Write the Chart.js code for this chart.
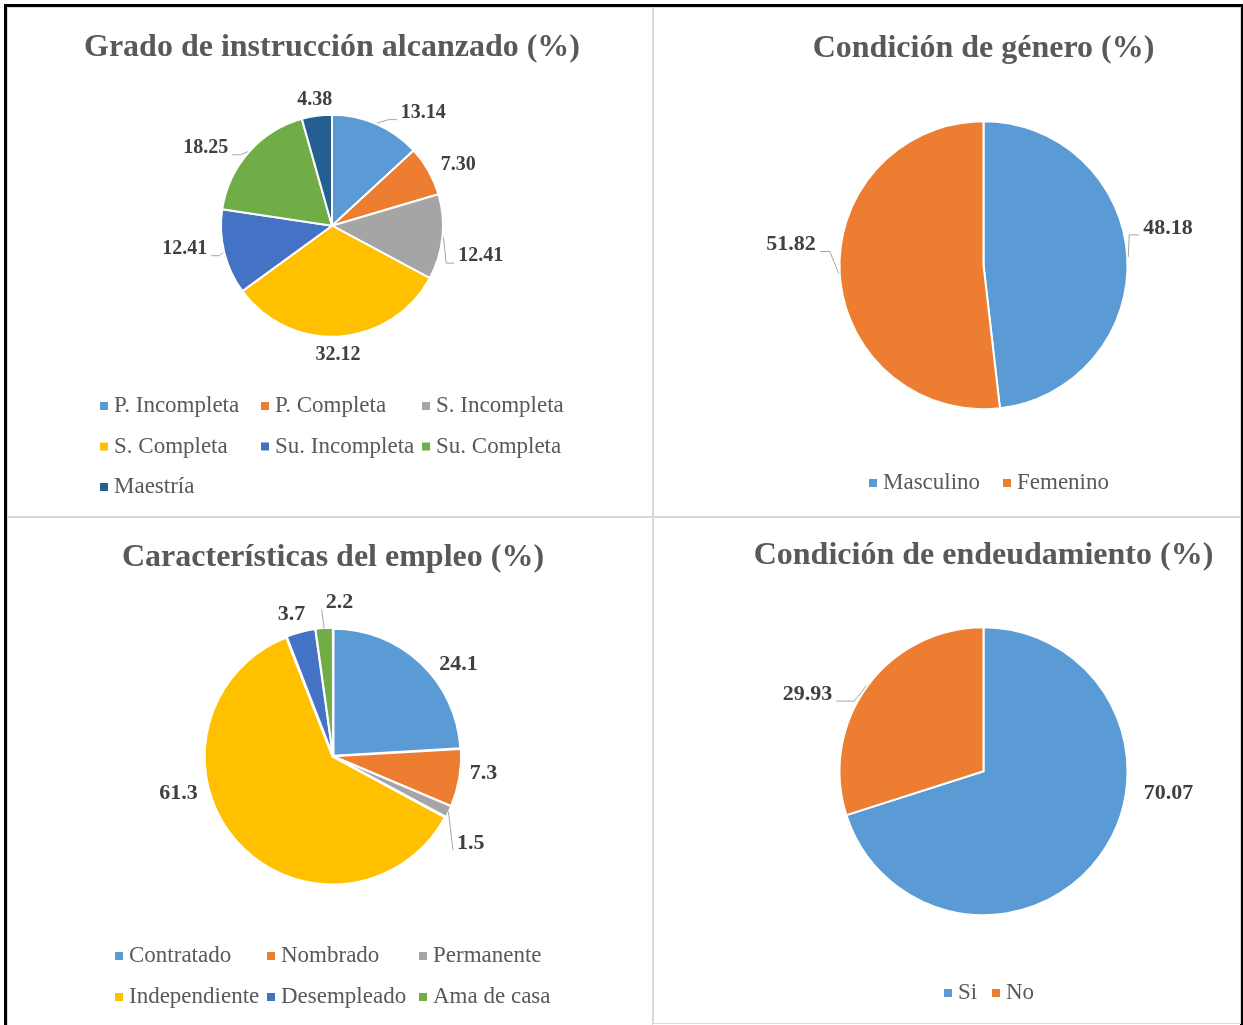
<!DOCTYPE html>
<html>
<head>
<meta charset="utf-8">
<script src="https://cdn.jsdelivr.net/npm/chart.js@4.4.0/dist/chart.umd.min.js"></script>
<style>
  html, body { margin: 0; padding: 0; background: #fff; overflow: hidden; }
  #frame { position: absolute; left: 4px; top: 4px; width: 1239px; height: 1040px; border: 3px solid #000; box-sizing: border-box; }
  .panel { position: absolute; border: 1px solid #d9d9d9; box-sizing: border-box; background: #fff; }
  .panel canvas { display: block; }
</style>
</head>
<body>
<div id="frame"></div>
<div class="panel" style="left:7px;top:7px;width:646px;height:510px"><canvas id="grado" width="644" height="508"></canvas></div>
<div class="panel" style="left:653px;top:7px;width:588px;height:510px"><canvas id="genero" width="586" height="508"></canvas></div>
<div class="panel" style="left:7px;top:517px;width:646px;height:509px"><canvas id="empleo" width="644" height="507"></canvas></div>
<div class="panel" style="left:653px;top:517px;width:588px;height:507px"><canvas id="deuda" width="586" height="505"></canvas></div>
<script>
const gradoLabels = ["P. Incompleta", "P. Completa", "S. Incompleta", "S. Completa", "Su. Incompleta", "Su. Completa", "Maestría"];
const gradoValues = [13.14, 7.30, 12.41, 32.12, 12.41, 18.25, 4.38];

const generoLabels = ["Masculino", "Femenino"];
const generoValues = [48.18, 51.82];

const empleoLabels = ["Contratado", "Nombrado", "Permanente", "Independiente", "Desempleado", "Ama de casa"];
const empleoValues = [24.1, 7.3, 1.5, 61.3, 3.7, 2.2];

const deudaLabels = ["Si", "No"];
const deudaValues = [70.07, 29.93];

const palette = ["#5B9BD5", "#ED7D31", "#A5A5A5", "#FFC000", "#4472C4", "#70AD47", "#255E91"];
const FONT = "'Liberation Serif', 'Times New Roman', serif";

// value labels outside the slices, with optional leader lines
const pieLabels = {
  id: "pieLabels",
  afterDatasetsDraw(chart, args, opts) {
    const ctx = chart.ctx;
    const meta = chart.getDatasetMeta(0);
    const values = chart.data.datasets[0].data;
    ctx.save();
    ctx.font = `bold ${opts.size}px ${FONT}`;
    ctx.textBaseline = "middle";
    ctx.textAlign = "center";
    meta.data.forEach((arc, i) => {
      const p = arc.getProps(["x", "y", "startAngle", "endAngle", "outerRadius"], true);
      const mid = (p.startAngle + p.endAngle) / 2;
      const dx = Math.cos(mid), dy = Math.sin(mid);
      const text = values[i].toFixed(opts.decimals);
      const w = ctx.measureText(text).width;
      const h = 14;
      const d = p.outerRadius + 12;
      const n = opts.nudge[i] || [0, 0];
      const tx = p.x + d * dx + dx * w / 2 + n[0];
      const ty = p.y + d * dy + dy * h / 2 + n[1];
      if (opts.leader[i]) {
        const sx = p.x + (p.outerRadius + 1) * dx;
        const sy = p.y + (p.outerRadius + 1) * dy;
        const right = tx > sx;
        const ex = right ? tx - w / 2 - 4 : tx + w / 2 + 4;
        const ey = ty + h / 2;
        const kx = right ? ex - opts.knee : ex + opts.knee;
        ctx.strokeStyle = "#A6A6A6";
        ctx.lineWidth = 1;
        ctx.beginPath();
        ctx.moveTo(sx, sy);
        ctx.lineTo(kx, ey);
        ctx.lineTo(ex, ey);
        ctx.stroke();
      }
      ctx.fillStyle = "#404040";
      ctx.fillText(text, tx, ty);
    });
    ctx.restore();
  }
};

// excel-like legend laid out in fixed columns
const gridLegend = {
  id: "gridLegend",
  afterDraw(chart, args, opts) {
    const ctx = chart.ctx;
    const colors = chart.data.datasets[0].backgroundColor;
    ctx.save();
    ctx.font = `23px ${FONT}`;
    ctx.textBaseline = "middle";
    ctx.textAlign = "left";
    chart.data.labels.forEach((label, i) => {
      const col = i % opts.cols, row = Math.floor(i / opts.cols);
      const x = opts.x + col * opts.colW;
      const y = opts.y + row * opts.rowH;
      ctx.fillStyle = colors[i];
      ctx.fillRect(x, y - 4, 8, 8);
      ctx.fillStyle = "#595959";
      ctx.fillText(label, x + 14, y);
    });
    ctx.restore();
  }
};

function makePie(id, title, labels, values, cfg) {
  return new Chart(document.getElementById(id), {
    type: "pie",
    data: {
      labels: labels,
      datasets: [{
        data: values,
        backgroundColor: palette.slice(0, values.length),
        borderColor: "#ffffff",
        borderWidth: 2,
        offset: cfg.offset || 0,
        radius: cfg.radius
      }]
    },
    options: {
      responsive: false,
      animation: false,
      layout: { padding: cfg.padding },
      plugins: {
        legend: { display: false },
        tooltip: { enabled: false },
        title: {
          display: true,
          text: title,
          color: "#595959",
          font: { family: FONT, size: 32, weight: "bold" },
          padding: { top: cfg.titleTop, bottom: 0 }
        },
        pieLabels: cfg.labels,
        gridLegend: cfg.legend
      }
    },
    plugins: [pieLabels, gridLegend]
  });
}

makePie("grado", "Grado de instrucción alcanzado (%)", gradoLabels, gradoValues, {
  radius: 111,
  titleTop: 21,
  padding: { left: 4, right: 0, top: 0, bottom: 132 },
  labels: {
    size: 20, decimals: 2, knee: 8,
    nudge: [[33, 6], [4, 3], [4, 17], [-4, -1], [-6, -8], [-17, 8], [2, 3]],
    leader: [1, 0, 1, 0, 1, 1, 0]
  },
  legend: { x: 92, y: 398, cols: 3, colW: 161, rowH: 40.5 }
});

makePie("genero", "Condición de género (%)", generoLabels, generoValues, {
  radius: 144,
  titleTop: 22,
  padding: { left: 73, right: 0, top: 0, bottom: 54 },
  labels: {
    size: 22, decimals: 2, knee: 10,
    nudge: [[4, -28], [-12, -30]],
    leader: [1, 1]
  },
  legend: { x: 215, y: 475, cols: 2, colW: 134, rowH: 40 }
});

makePie("empleo", "Características del empleo (%)", empleoLabels, empleoValues, {
  radius: 127,
  offset: 3,
  titleTop: 21,
  padding: { left: 6, right: 0, top: 0, bottom: 90 },
  labels: {
    size: 22, decimals: 1, knee: 0,
    nudge: [[17, 14], [0, -8], [0, 24], [-36, -60], [-3, -1], [17, -8]],
    leader: [0, 0, 1, 0, 0, 1]
  },
  legend: { x: 107, y: 438, cols: 3, colW: 152, rowH: 41 }
});

makePie("deuda", "Condición de endeudamiento (%)", deudaLabels, deudaValues, {
  radius: 144,
  titleTop: 19,
  padding: { left: 73, right: 0, top: 0, bottom: 56 },
  labels: {
    size: 22, decimals: 2, knee: 18,
    nudge: [[39, -74], [-30, 19]],
    leader: [0, 1]
  },
  legend: { x: 290, y: 475, cols: 2, colW: 48, rowH: 40 }
});
</script>
</body>
</html>
